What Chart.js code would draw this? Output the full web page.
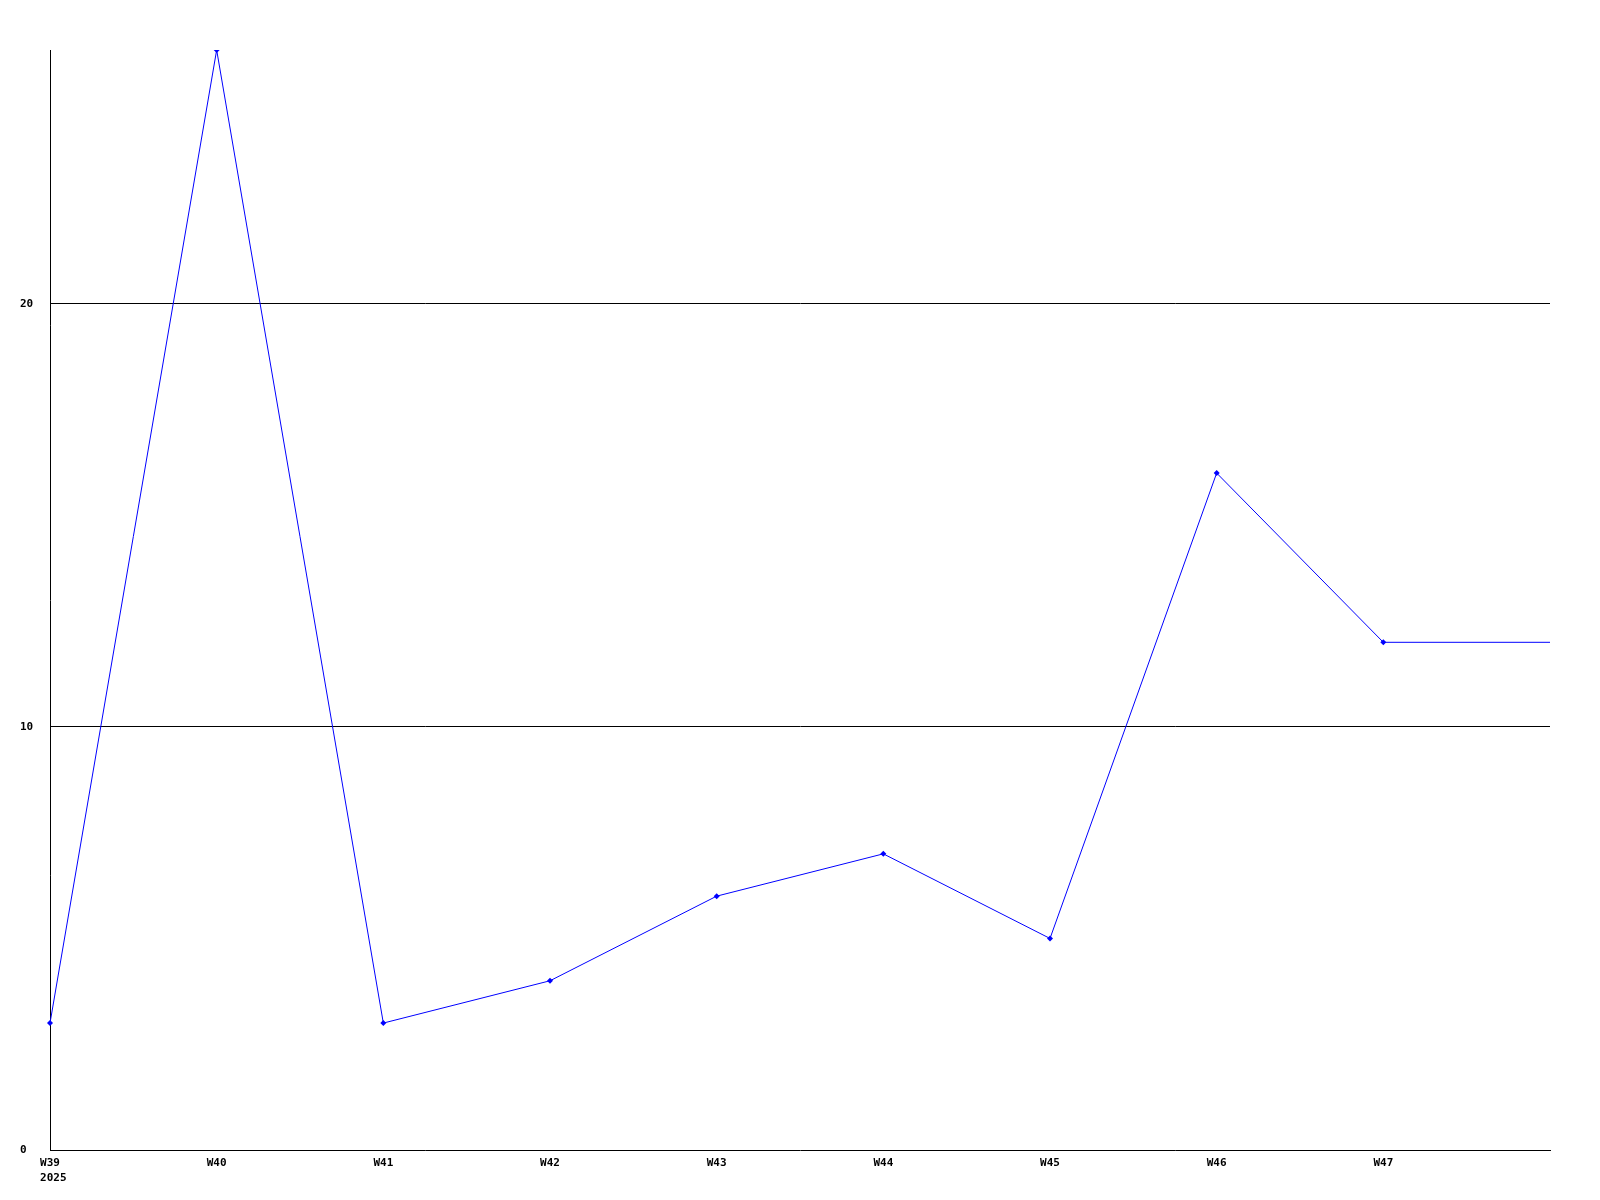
<!DOCTYPE html>
<html>
<head>
<meta charset="utf-8">
<script src="https://cdn.jsdelivr.net/npm/chart.js@4/dist/chart.umd.min.js"></script>
<style>
    body { margin: 0; background: #fff; }
    canvas { display: block; }
</style>
</head>
<body>
<canvas id="weekChart" width="1600" height="1200"></canvas>
<script>
// week labels (last slot is the unlabelled continuation to the right edge)
const weeks = ['W39', 'W40', 'W41', 'W42', 'W43', 'W44', 'W45', 'W46', 'W47', ''];
const yearLabel = '2025';
const counts = [3, 26, 3, 4, 6, 7, 5, 16, 12, 12];
const yTicks = [0, 10, 20];

const tickFont = { family: 'DejaVu Sans Mono', size: 11, weight: 'bold', lineHeight: 1.4 };

function plotWeeks() {
    const ctx = document.getElementById('weekChart').getContext('2d');
    new Chart(ctx, {
        type: 'line',
        data: {
            labels: weeks,
            datasets: [{
                data: counts,
                borderColor: '#0000ff',
                backgroundColor: '#0000ff',
                borderWidth: 1,
                pointStyle: 'rectRot',
                pointRadius: counts.map((v, i) => i === counts.length - 1 ? 0 : 3),
                pointBorderWidth: 0,
                tension: 0,
                fill: false
            }]
        },
        options: {
            responsive: false,
            animation: false,
            layout: { padding: { left: 20, top: 50, right: 50, bottom: 0 } },
            plugins: {
                legend: { display: false },
                tooltip: { enabled: false }
            },
            scales: {
                x: {
                    offset: false,
                    afterFit: s => { s.height = 50; },
                    grid: { display: false, drawTicks: false },
                    border: { display: true, color: '#000', width: 1 },
                    ticks: {
                        color: '#000',
                        font: tickFont,
                        padding: 5,
                        maxRotation: 0,
                        autoSkip: false,
                        callback: (v, i) => i === 0 ? [weeks[i], ' ' + yearLabel] : weeks[i]
                    }
                },
                y: {
                    min: 0,
                    max: 26,
                    afterFit: s => { s.width = 30; },
                    afterBuildTicks: s => { s.ticks = yTicks.map(v => ({ value: v })); },
                    grid: {
                        drawTicks: false,
                        color: c => c.tick && c.tick.value > 0 ? '#000' : 'rgba(0,0,0,0)',
                        lineWidth: 1
                    },
                    border: { display: true, color: '#000', width: 1 },
                    ticks: {
                        color: '#000',
                        font: tickFont,
                        crossAlign: 'far',
                        padding: 0
                    }
                }
            }
        }
    });
}

plotWeeks();
</script>
</body>
</html>
